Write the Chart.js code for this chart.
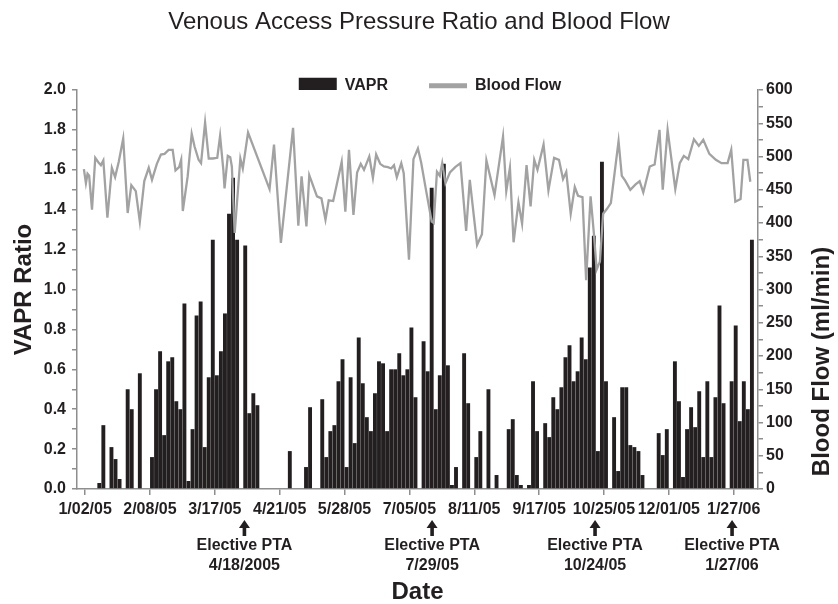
<!DOCTYPE html>
<html><head><meta charset="utf-8">
<script src="https://cdn.jsdelivr.net/npm/chart.js@4.4.1/dist/chart.umd.min.js"></script>
<style>html,body{margin:0;padding:0;background:#fff}#wrap{width:838px;height:604px}</style>
</head><body><div id="wrap"><canvas id="c" width="838" height="604"></canvas></div>
<script>
const chartTitle = 'Venous Access Pressure Ratio and Blood Flow';
const seriesNames = ['VAPR', 'Blood Flow'];
const axisTitles = { left: 'VAPR Ratio', right: 'Blood Flow (ml/min)', bottom: 'Date' };

// one bar per dialysis session (session index 0..167)
const vaprValues = [
  0,0,0,0,0,0.03,0.32,0,0.21,0.15,
  0.05,0,0.50,0.40,0,0.58,0,0,0.16,0.50,
  0.69,0.27,0.64,0.66,0.44,0.40,0.93,0.04,0.30,0.87,
  0.94,0.21,0.56,1.25,0.57,0.69,0.88,1.38,1.56,1.25,
  0,1.22,0.38,0.48,0.42,0,0,0,0,0,
  0,0,0.19,0,0,0,0.11,0.41,0,0,
  0.45,0.16,0.29,0.32,0.54,0.65,0.11,0.56,0.23,0.76,
  0.53,0.36,0.29,0.48,0.64,0.63,0.29,0.60,0.60,0.68,
  0.57,0.60,0.81,0.46,0,0.74,0.59,1.51,0.40,0.57,
  1.63,0.62,0.02,0.11,0,0.68,0.43,0,0.16,0.29,
  0,0.50,0,0.07,0,0,0.30,0.35,0.07,0.02,
  0,0.02,0.54,0.29,0,0.33,0.26,0.46,0.40,0.51,
  0.66,0.72,0.54,0.59,0.76,0.65,1.11,1.27,0.19,1.64,
  0.54,0,0.36,0.09,0.51,0.51,0.22,0.21,0.19,0.07,
  0,0,0,0.28,0.17,0.30,0,0.64,0.44,0.06,
  0.30,0.41,0.31,0.49,0.16,0.54,0.16,0.46,0.92,0.43,
  0,0.54,0.82,0.34,0.54,0.40,1.25,0
];

// blood flow readings: position on the session axis and value (ml/min)
const flowSession = [
  1.7,2.2,2.6,3.0,3.7,4.5,5.3,5.9,6.5,7.5,8.6,9.4,10.3,11.4,12.5,13.4,14.5,15.5,16.6,17.7,
  18.5,19.7,20.7,21.6,22.6,23.6,24.3,25.2,25.7,26.1,27.3,28.3,29.0,30.0,30.6,31.6,32.5,33.5,34.6,35.3,
  36.1,36.4,37.2,37.8,38.2,38.9,40.3,40.9,42.2,47.5,48.6,50.3,53.3,54.6,55.4,56.6,57.3,59.2,60.3,61.3,
  62.1,63.2,65.3,66.2,67.1,68.2,69.1,70.0,70.8,72.1,73.0,73.8,74.8,75.7,76.7,77.5,78.2,78.9,80.0,80.6,
  81.9,83.0,84.1,84.9,86.2,87.5,88.0,88.8,89.5,90.1,90.9,92.0,93.3,94.6,96.0,96.9,98.7,99.9,101.0,103.0,
  105.1,105.9,106.8,107.7,108.9,109.8,110.9,111.9,112.8,113.6,115.1,116.3,117.7,118.9,119.9,120.7,121.8,122.8,123.6,124.7,
  125.6,126.7,127.5,128.2,129.0,129.8,130.7,131.7,133.6,134.4,135.2,136.5,137.8,138.8,139.7,141.3,142.5,143.7,144.5,145.7,
  147.6,148.7,149.7,150.8,152.2,153.4,154.5,156.0,157.6,159.0,160.5,161.4,162.4,163.7,164.4,165.4,166.1
];
const flowValues = [
  481,460,474,471,420,498,491,487,494,408,483,469,492,527,415,457,448,402,463,483,
  465,489,503,504,510,510,479,484,495,418,470,534,515,495,490,551,497,497,498,531,
  480,452,501,499,485,385,497,482,536,451,518,370,543,396,470,395,472,440,437,405,
  434,433,492,417,510,412,476,489,480,500,468,503,489,485,484,482,487,469,490,475,
  345,496,512,491,446,402,400,477,471,490,460,476,484,490,388,465,367,383,494,442,
  530,448,483,371,431,399,487,425,495,480,518,449,498,495,466,477,414,454,441,439,
  314,440,385,330,342,414,421,430,523,471,464,450,458,463,446,485,488,540,450,540,
  451,490,501,496,526,516,525,504,495,490,490,510,432,436,495,495,462
];

const dateTickSessions = [2, 18, 34, 50, 66, 82, 98, 114, 130, 146, 162];
const dateTickLabels = ['1/02/05','2/08/05','3/17/05','4/21/05','5/28/05','7/05/05','8/11/05','9/17/05','10/25/05','12/01/05','1/27/06'];

const ptaTitle = 'Elective PTA';
const ptaSessions = [41.3, 87.6, 127.8, 161.6];
const ptaLabels = ['4/18/2005', '7/29/05', '10/24/05', '1/27/06'];

const sessionCount = vaprValues.length;

const FONT = "'Liberation Sans', Arial, Helvetica, sans-serif";
const INK = '#231f20';
const BAR_COLOR = '#231f20';
const LINE_COLOR = '#a2a2a2';
const AXIS_COLOR = '#8e8e8e';

Chart.defaults.font.family = FONT;
Chart.defaults.color = INK;

const legendShift = {
  id: 'legendShift',
  afterLayout(chart) {
    const lg = chart.legend;
    if (lg) { lg.left += 11; lg.right += 11; }
  }
};

const ptaMarks = {
  id: 'ptaMarks',
  afterDraw(chart) {
    const { ctx, chartArea } = chart;
    const xs = chart.scales.x;
    const base = chartArea.bottom;
    ctx.save();
    ctx.fillStyle = INK;
    ctx.font = 'bold 16px ' + FONT;
    ctx.textAlign = 'center';
    ctx.textBaseline = 'middle';
    ptaSessions.forEach((s, i) => {
      const px = xs.getPixelForValue(s);
      ctx.beginPath();
      ctx.moveTo(px, base + 31);
      ctx.lineTo(px + 5.5, base + 39);
      ctx.lineTo(px - 5.5, base + 39);
      ctx.closePath();
      ctx.fill();
      ctx.fillRect(px - 1.8, base + 38, 3.6, 9);
      ctx.fillText(ptaTitle, px, base + 57);
      ctx.fillText(ptaLabels[i], px, base + 77);
    });
    ctx.restore();
  }
};

const rightTitle = {
  id: 'rightTitle',
  afterDraw(chart) {
    const { ctx, chartArea } = chart;
    ctx.save();
    ctx.translate(chart.width - 16, (chartArea.top + chartArea.bottom) / 2 + 72);
    ctx.rotate(-Math.PI / 2);
    ctx.fillStyle = INK;
    ctx.font = 'bold 24px ' + FONT;
    ctx.textAlign = 'center';
    ctx.textBaseline = 'middle';
    ctx.fillText(axisTitles.right, 0, 0);
    ctx.restore();
  }
};

new Chart(document.getElementById('c'), {
  type: 'bar',
  data: {
    datasets: [
      {
        type: 'bar',
        label: seriesNames[0],
        data: vaprValues.map((v, i) => ({ x: i + 0.5, y: v })),
        backgroundColor: BAR_COLOR,
        borderWidth: 0,
        barPercentage: 0.96,
        categoryPercentage: 1,
        yAxisID: 'y',
        order: 2
      },
      {
        type: 'line',
        label: seriesNames[1],
        data: flowSession.map((s, i) => ({ x: s, y: flowValues[i] })),
        borderColor: LINE_COLOR,
        backgroundColor: LINE_COLOR,
        borderWidth: 2.3,
        pointRadius: 0,
        tension: 0,
        fill: false,
        yAxisID: 'y1',
        order: 1
      }
    ]
  },
  options: {
    responsive: false,
    animation: false,
    devicePixelRatio: 1,
    layout: { padding: 0 },
    plugins: {
      tooltip: { enabled: false },
      title: {
        display: true,
        text: chartTitle,
        color: INK,
        font: { size: 24, weight: 'normal' },
        padding: { top: 8, bottom: 0 }
      },
      legend: {
        position: 'top',
        maxHeight: 53.2,
        labels: {
          usePointStyle: true,
          pointStyleWidth: 38,
          boxHeight: 16,
          padding: 41,
          color: INK,
          font: { size: 16, weight: 'bold' },
          sort: (a, b) => a.datasetIndex - b.datasetIndex,
          generateLabels(chart) {
            const items = Chart.defaults.plugins.legend.labels.generateLabels(chart);
            items.forEach(it => {
              if (it.datasetIndex === 0) {
                it.pointStyle = 'rect'; it.lineWidth = 0; it.fillStyle = BAR_COLOR; it.strokeStyle = BAR_COLOR;
              } else {
                it.pointStyle = 'line'; it.lineWidth = 5; it.strokeStyle = LINE_COLOR; it.fillStyle = LINE_COLOR; it.lineCap = 'butt';
              }
            });
            return items;
          }
        }
      }
    },
    scales: {
      x: {
        type: 'linear',
        min: 0,
        max: sessionCount,
        offset: false,
        grid: { offset: false, drawOnChartArea: false, drawTicks: true, tickLength: 6, color: AXIS_COLOR, lineWidth: 1.5 },
        border: { color: AXIS_COLOR, width: 1.5 },
        ticks: {
          autoSkip: false, maxRotation: 0, minRotation: 0, padding: 5,
          color: INK, font: { size: 16, weight: 'bold' },
          callback: (v, i) => dateTickLabels[i] ?? ''
        },
        afterBuildTicks: s => { s.ticks = dateTickSessions.map(v => ({ value: v })); },
        afterFit: s => { s.height = 115; },
        title: { display: true, text: axisTitles.bottom, color: INK, font: { size: 24, weight: 'bold', lineHeight: 1 }, padding: { top: 0, bottom: 0 } }
      },
      y: {
        position: 'left',
        min: 0, max: 2,
        grid: { drawOnChartArea: false, tickLength: 5, color: AXIS_COLOR, lineWidth: 1.5 },
        border: { color: AXIS_COLOR, width: 1.5 },
        ticks: {
          stepSize: 0.1, autoSkip: false, padding: 6, color: INK,
          font: { size: 16, weight: 'bold' },
          callback: v => { const k = Math.round(v * 10); return k % 2 === 0 ? (k / 10).toFixed(1) : ''; }
        },
        afterFit: s => { s.width = 77; },
        title: { display: true, text: axisTitles.left, color: INK, font: { size: 24, weight: 'bold' }, padding: { top: 10, bottom: 0 } }
      },
      y1: {
        position: 'right',
        min: 0, max: 600,
        grid: { drawOnChartArea: false, tickLength: 5, color: AXIS_COLOR, lineWidth: 1.5 },
        border: { color: AXIS_COLOR, width: 1.5 },
        ticks: {
          stepSize: 25, autoSkip: false, padding: 3, color: INK,
          font: { size: 16, weight: 'bold' },
          callback: v => (Math.round(v) % 50 === 0 ? String(Math.round(v)) : '')
        },
        afterFit: s => { s.width = 80; }
      }
    }
  },
  plugins: [legendShift, ptaMarks, rightTitle]
});
</script>
</body></html>
